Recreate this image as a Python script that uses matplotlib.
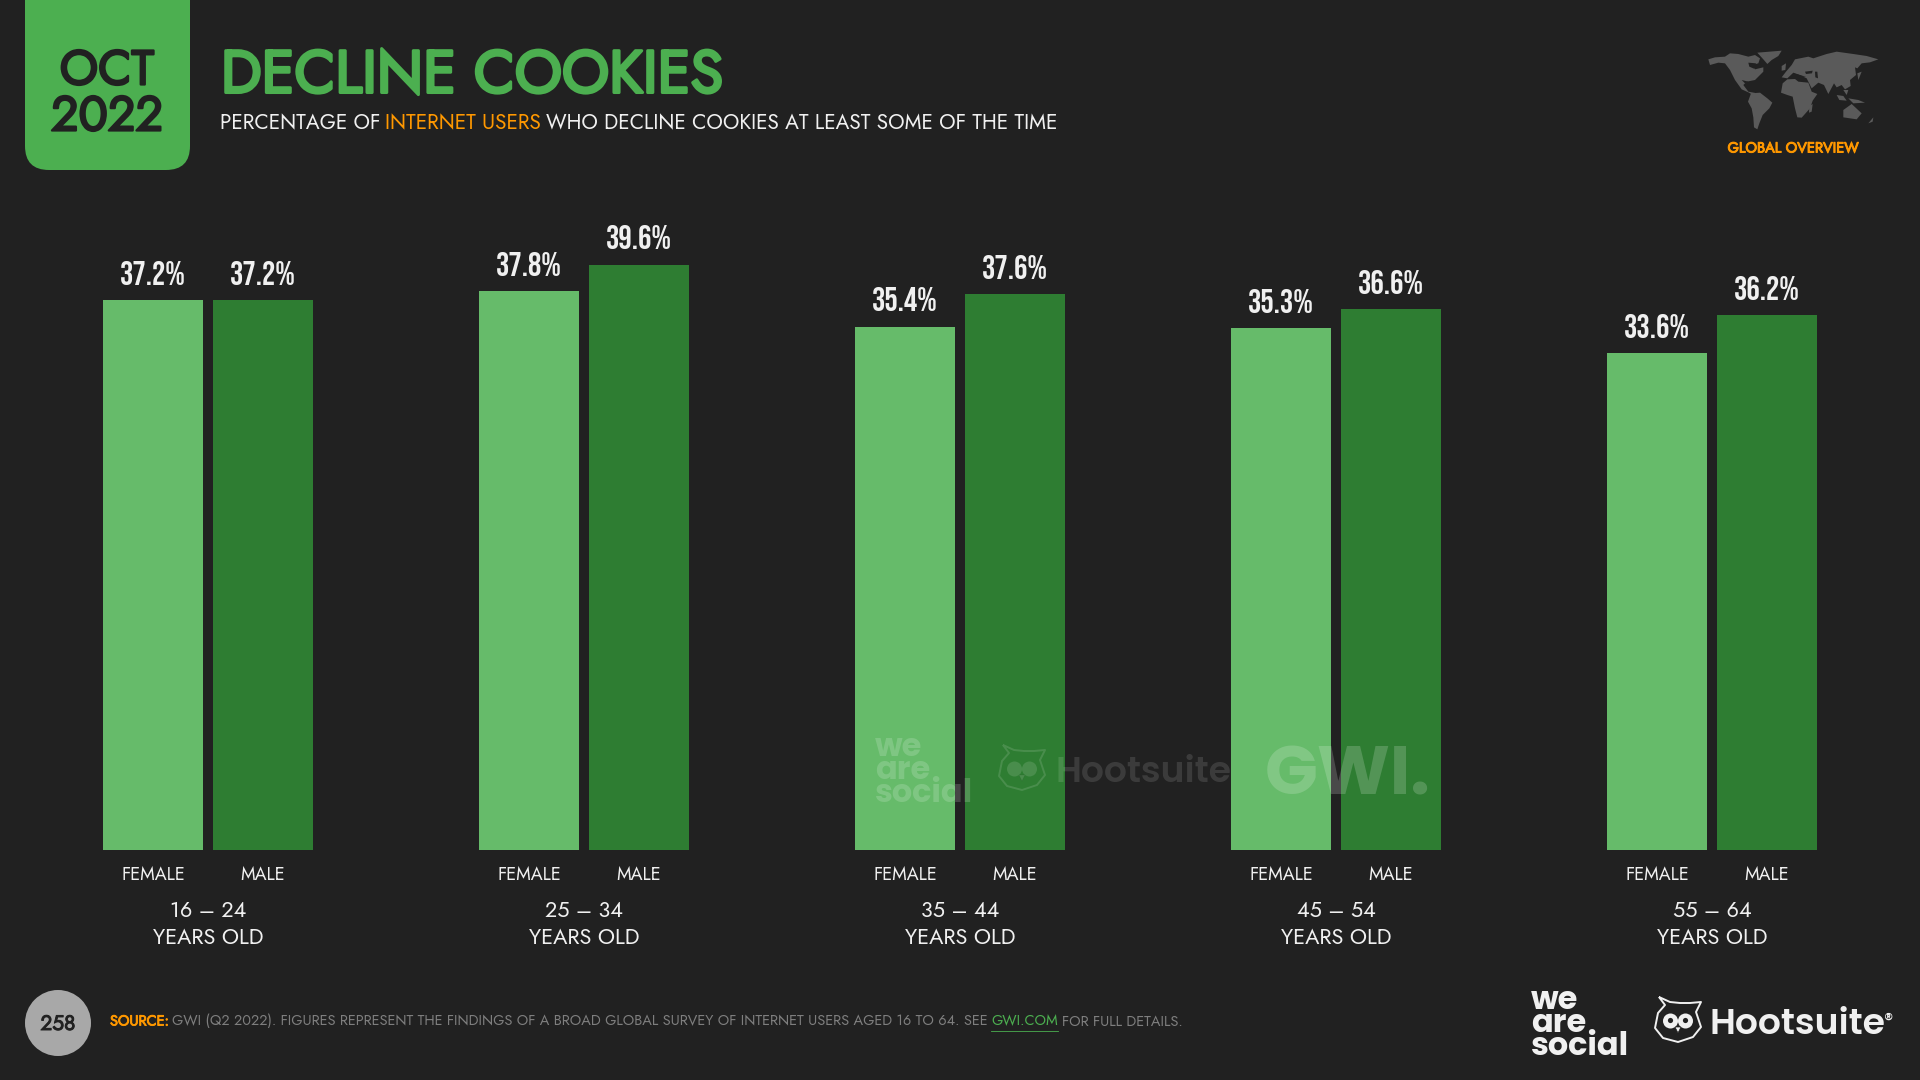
import numpy as np
import matplotlib
matplotlib.use('Agg')
import matplotlib.pyplot as plt
from matplotlib.patches import Circle, FancyBboxPatch, PathPatch, Polygon
from matplotlib.path import Path
import matplotlib.patheffects as pe

age_groups = ['16 – 24', '25 – 34', '35 – 44', '45 – 54', '55 – 64']
female = [37.2, 37.8, 35.4, 35.3, 33.6]
male = [37.2, 39.6, 37.6, 36.6, 36.2]

BG = '#212121'
GREEN = '#4CAF50'
LIGHT_GREEN = '#66BB6A'
DARK_GREEN = '#2E7D32'
ORANGE = '#FF9800'
WHITE = '#F0F0F0'
GREY = '#7E7E7E'
MAIN_FONT = ['Jost', 'Lato', 'DejaVu Sans']
NUM_FONT = ['Bebas Neue', 'Oswald', 'Roboto', 'DejaVu Sans']
LOGO_FONT = ['Poppins', 'Inter', 'DejaVu Sans']

fig = plt.figure(figsize=(19.2, 10.8), dpi=100, facecolor=BG)

# bars live on a full-figure axes: one x unit is one age group
ax = fig.add_axes([0, 0, 1, 1], facecolor='none')
ax.set_xlim(-208 / 376, (1920 - 208) / 376)
ax.set_ylim(-230 / 14.785, 850 / 14.785)
ax.axis('off')

# page furniture in pixels, y going down
deco = fig.add_axes([0, 0, 1, 1], facecolor='none', zorder=3)
deco.set_xlim(0, 1920)
deco.set_ylim(1080, 0)
deco.axis('off')

x = np.arange(len(age_groups))
bar_w = 100 / 376
offset = 55 / 376
bars_f = ax.bar(x - offset, female, bar_w, color=LIGHT_GREEN)
bars_m = ax.bar(x + offset, male, bar_w, color=DARK_GREEN)

for bars in (bars_f, bars_m):
    ax.bar_label(bars, labels=['%.1f%%' % b.get_height() for b in bars], padding=11,
                 color=WHITE, fontsize=24, family=NUM_FONT)

for i, age in enumerate(age_groups):
    ax.annotate('FEMALE', (i - offset, 0), xytext=(0, -25 * 0.72), textcoords='offset points',
                ha='center', va='center', color=WHITE, fontsize=13, family=MAIN_FONT)
    ax.annotate('MALE', (i + offset, 0), xytext=(0, -25 * 0.72), textcoords='offset points',
                ha='center', va='center', color=WHITE, fontsize=13, family=MAIN_FONT)
    ax.annotate(age, (i, 0), xytext=(0, -61 * 0.72), textcoords='offset points',
                ha='center', va='center', color=WHITE, fontsize=15.6, family=MAIN_FONT)
    ax.annotate('YEARS OLD', (i, 0), xytext=(0, -88 * 0.72), textcoords='offset points',
                ha='center', va='center', color=WHITE, fontsize=15.6, family=MAIN_FONT)


def text_row(px, py, pieces, size):  # several colours on one line
    renderer = fig.canvas.get_renderer()
    spans = []
    for s, color, stroke in pieces:
        t = deco.text(px, py, s, color=color, fontsize=size, family=MAIN_FONT, va='center', ha='left')
        if stroke:
            t.set_path_effects([pe.withStroke(linewidth=stroke, foreground=color)])
        box = t.get_window_extent(renderer)
        spans.append((box.x0, box.x1))
        px = box.x1 + size * 0.33
    return spans


def owl(cx, cy, color, alpha=1.0):
    verts = [(-19, -23), (-8, -18), (2, -17), (12, -17), (23, -18), (18, -8), (23, 7), (15, 17),
             (0, 22), (-15, 18), (-23, 8), (-20, -7), (-13, -15), (-19, -23)]
    pts = [(cx + a, cy + b) for a, b in verts]
    codes = [Path.MOVETO] + [Path.LINETO] * (len(pts) - 1)
    deco.add_patch(PathPatch(Path(pts, codes), fill=False, ec=color, lw=1.4, alpha=alpha, joinstyle='round'))
    for d in (-7.5, 7.5):
        deco.add_patch(Circle((cx + d, cy + 1), 7.5, fc=color, ec='none', alpha=alpha))
        if alpha == 1.0:
            deco.add_patch(Circle((cx + d, cy + 0.5), 2.6, fc=BG, ec='none'))
    deco.add_patch(Polygon([(cx - 3, cy + 7), (cx + 3, cy + 7), (cx, cy + 13)], fc=color, ec=BG, lw=0.5, alpha=alpha))


# date tab
deco.add_patch(FancyBboxPatch((25, -40), 165, 210, boxstyle='round,pad=0,rounding_size=24', fc=GREEN, ec='none'))
thick = [pe.withStroke(linewidth=1.6, foreground=BG)]
deco.text(107, 71, 'OCT', ha='center', va='center', color=BG, fontsize=35, family=MAIN_FONT, path_effects=thick)
deco.text(107, 117, '2022', ha='center', va='center', color=BG, fontsize=35, family=MAIN_FONT, path_effects=thick)

deco.text(221, 76, 'DECLINE COOKIES', va='center', color=GREEN, fontsize=43, family=MAIN_FONT,
          path_effects=[pe.withStroke(linewidth=2.2, foreground=GREEN)])
text_row(220, 123, [('PERCENTAGE OF', WHITE, 0), ('INTERNET USERS', ORANGE, 0),
                    ('WHO DECLINE COOKIES AT LEAST SOME OF THE TIME', WHITE, 0)], 15)

# world map, rough outlines traced in a 3x crop of the corner
land = [
    [(85, 88), (105, 82), (135, 80), (150, 70), (175, 72), (205, 80), (225, 75), (240, 85), (235, 100), (215, 105), (225, 118), (250, 112), (250, 125), (235, 140), (225, 150), (200, 155), (190, 165), (205, 185), (232, 190), (222, 197), (205, 187), (185, 178), (165, 150), (150, 120), (135, 100), (115, 98), (90, 105)],
    [(232, 68), (305, 62), (295, 78), (275, 90), (262, 102), (250, 88)],
    [(213, 190), (240, 188), (262, 205), (277, 218), (268, 235), (248, 255), (238, 280), (232, 298), (222, 292), (220, 262), (215, 235), (204, 215)],
    [(308, 160), (322, 148), (345, 147), (355, 155), (385, 158), (395, 185), (412, 192), (398, 212), (390, 235), (365, 263), (352, 262), (345, 235), (338, 200), (322, 195), (303, 188)],
    [(318, 125), (335, 105), (345, 88), (385, 80), (400, 85), (440, 72), (470, 65), (520, 72), (560, 78), (595, 88), (570, 97), (545, 100), (532, 115), (525, 112), (528, 135), (510, 150), (512, 168), (495, 178), (485, 165), (470, 172), (462, 160), (445, 192), (432, 165), (415, 158), (395, 175), (380, 145), (360, 135), (340, 128), (322, 145), (305, 142)],
    [(490, 240), (515, 222), (545, 250), (530, 268), (490, 262)],
    [(388, 228), (398, 222), (395, 245), (387, 248)],
    [(470, 195), (490, 198), (500, 212), (478, 210)],
    [(505, 205), (535, 210), (555, 218), (520, 220)],
    [(565, 280), (580, 262), (578, 275)],
    [(305, 108), (318, 100), (316, 120), (305, 122)],
    [(532, 130), (545, 125), (535, 150)],
    [(490, 180), (505, 180), (500, 195)],
]
water = [
    [(205, 98), (228, 100), (222, 116), (208, 110)],
    [(185, 150), (205, 155), (195, 160)],
    [(375, 125), (398, 122), (396, 130), (378, 132)],
    [(340, 130), (378, 140), (345, 142)],
    [(405, 125), (412, 125), (414, 145), (406, 142)],
]
for shape in land:
    deco.add_patch(Polygon([(1680 + a / 3, 30 + b / 3) for a, b in shape], fc='#5A5A5A', ec='none'))
for shape in water:
    deco.add_patch(Polygon([(1680 + a / 3, 30 + b / 3) for a, b in shape], fc=BG, ec='none'))
deco.text(1793, 148, 'GLOBAL OVERVIEW', ha='center', va='center', color=ORANGE, fontsize=10.5, family=MAIN_FONT,
          path_effects=[pe.withStroke(linewidth=0.7, foreground=ORANGE)])

# footer
deco.add_patch(Circle((58, 1023), 33, fc='#A8A8A8', ec='none'))
deco.text(58, 1024, '258', ha='center', va='center', color=BG, fontsize=15, family=MAIN_FONT,
          path_effects=[pe.withStroke(linewidth=0.7, foreground=BG)])
spans = text_row(110, 1021, [('SOURCE:', ORANGE, 0.6),
                             ('GWI (Q2 2022). FIGURES REPRESENT THE FINDINGS OF A BROAD GLOBAL SURVEY OF INTERNET USERS AGED 16 TO 64. SEE', GREY, 0),
                             ('GWI.COM', GREEN, 0), ('FOR FULL DETAILS.', GREY, 0)], 10.45)
deco.plot(spans[2], [1031, 1031], color=GREEN, lw=0.6)

deco.text(1531, 1024, 'we\nare\nsocial', va='center', color=WHITE, fontsize=23, fontweight='bold', family=LOGO_FONT, linespacing=0.63)
owl(1678, 1020, WHITE)
deco.text(1710, 1026, 'Hootsuite', va='center', color=WHITE, fontsize=26, fontweight='semibold', family=LOGO_FONT)
deco.text(1884, 1021, '®', va='center', color=WHITE, fontsize=13, family=LOGO_FONT)

# watermark over the bars
deco.text(875, 771, 'we\nare\nsocial', va='center', color='white', alpha=0.17, fontsize=23, fontweight='bold', family=LOGO_FONT, linespacing=0.63)
owl(1022, 768, 'white', alpha=0.13)
deco.text(1055, 774, 'Hootsuite', va='center', color='white', alpha=0.12, fontsize=26, fontweight='semibold', family=LOGO_FONT)
deco.text(1265, 778, 'GWI.', va='center', color='white', alpha=0.18, fontsize=50, fontweight='bold', family=LOGO_FONT)

fig.savefig('out.png', dpi=100, facecolor=BG)
